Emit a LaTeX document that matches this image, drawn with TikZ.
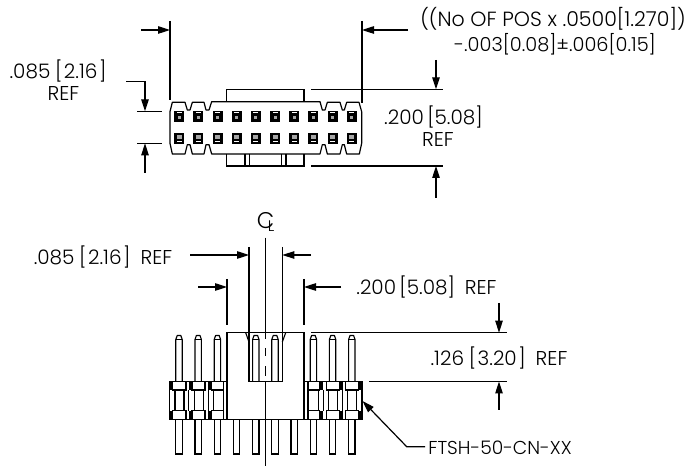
\documentclass[tikz,border=0pt]{standalone}
\usepackage{fontspec}
\setmainfont{Poppins Light}[Scale=1]
\usetikzlibrary{arrows.meta}
\newcommand{\brk}[1]{\kern1pt[\kern1.2pt#1\kern1.2pt]}
\tikzset{
  dimarrow/.style={line width=.9pt,-{Triangle[length=9pt,width=5.6pt]}},
  ln/.style={line width=.9pt},
  pinln/.style={line width=.85pt},
  txt/.style={inner sep=0pt,font=\fontsize{15pt}{17pt}\selectfont},
}
\begin{document}
\begin{tikzpicture}[x=.75pt,y=-.75pt]
\useasboundingbox (0,0) rectangle (689,466);
\fill[white] (0,0) rectangle (689,466);
% ---------- top view
\begin{scope}[shift={(130,80)},x=.25pt,y=-.25pt]
\draw[ln,line join=round] (120,95)--(127,67)--(165,67)--(172,90)--(180,90)--(187,67)--(222,67)--(228,90)--(237,90)--(245,65)--(570,65)--(577,90)--(585,90)--(592,67)--(630,67)--(637,90)--(643,90)--(650,67)--(687,67)--(695,95)--(695,190)--(688,222)--(650,222)--(643,194)--(637,194)--(630,222)--(592,222)--(585,194)--(577,194)--(570,222)--(245,222)--(237,194)--(228,194)--(222,222)--(187,222)--(180,194)--(172,194)--(165,222)--(127,222)--(120,190)--cycle;
\end{scope}
\draw[ln] (226.7,101.7)--(226.7,89.3)--(304,89.3)--(304,101.7);
\draw[ln] (226.7,154)--(226.7,166)--(304,166)--(304,154);
\draw[ln] (245,154)--(245,166) (249.3,154)--(249.3,166) (281.7,154)--(281.7,166) (286,154)--(286,166);
\foreach \i in {0,...,9}{
  \pgfmathsetmacro{\cx}{179.3+19.17*\i}
  \fill[black] (\cx-5,111) rectangle (\cx+5,122.5);
  \fill[white] (\cx-2.5,112) rectangle (\cx+2.5,113.5);
  \fill[gray!70] (\cx-1.5,116) rectangle (\cx+1.5,119);
  \fill[black] (\cx-5,132.7) rectangle (\cx+5,144.3);
  \fill[gray!70] (\cx-2.5,135.5) rectangle (\cx+2.5,139);
  \fill[white] (\cx-2.5,141) rectangle (\cx+2.5,142.5);
}
% top-view extension lines and arrows
\coordinate (tl) at (170,21); \coordinate (tlb) at (170,100);
\coordinate (tr) at (362,21); \coordinate (trb) at (362,103);
\draw[ln] (tl)--(tlb);
\draw[ln] (tr)--(trb);
\draw[dimarrow] (141,30)--(170,30);
\draw[dimarrow] (408,30)--(362,30);
\draw[ln] (311,89.3)--(443,89.3);
\draw[ln] (311,166)--(443,166);
\draw[dimarrow] (436,60)--(436,89.3);
\draw[dimarrow] (436,198)--(436,166);
\draw[ln] (137,111.3)--(162,111.3);
\draw[ln] (137,143.3)--(162,143.3);
\draw[dimarrow] (126,81.7)--(145,81.7)--(145,111.3);
\draw[dimarrow] (145,173)--(145,143.3);
\node[txt,font=\fontsize{15.4pt}{17pt}\selectfont] (t1) at (553,19) {((No OF POS x .0500[1.270])};
\node[txt,font=\fontsize{14.5pt}{17pt}\selectfont] (t2) at (555,44) {-.003[0.08]±.006[0.15]};
\node[txt] (t3) at (433.5,117) {.200\,[5.08]};
\node[txt] (t4) at (438,140) {REF};
\node[txt] (t5) at (58,71) {.085\,\brk{2.16}};
\node[txt] (t6) at (63.5,94) {REF};
% ---------- front view
\foreach \i in {0,1,2,4,5,7,8,9}{
  \pgfmathsetmacro{\cx}{179+19.2*\i}
  \draw[pinln,line join=round] (\cx-3.2,381.5)--(\cx-3.2,339.5)--(\cx-1.8,335.5)--(\cx+1.8,335.5)--(\cx+3.2,339.5)--(\cx+3.2,381.5);
  \draw[pinln] (\cx-3.2,339.5)--(\cx+3.2,339.5);
}
\foreach \i in {0,...,9}{
  \pgfmathsetmacro{\cx}{179+19.2*\i}
  \draw[pinln] (\cx-3.2,419.3)--(\cx-3.2,454)--(\cx+3.2,454)--(\cx+3.2,419.3);
}
\draw[ln] (227,381.5)--(227,332.7)--(304,332.7)--(304,381.5);
\draw[ln] (169.5,381.5)--(227,381.5)--(227,419.3)--(169.5,419.3)--cycle;
\draw[ln] (304,381.5)--(361.9,381.5)--(361.9,419.3)--(304,419.3)--cycle;
\draw[ln] (227,419.3)--(304,419.3);
\draw[ln] (249,332.7)--(249,381.5)--(282.3,381.5)--(282.3,332.7);
\draw[pinln] (249,342)--(245.7,332.7) (282.3,342)--(285.7,332.7);
% side blocks, left and mirrored right
\foreach \mx/\sgn in {0/1,531.4/-1}{
\begin{scope}[shift={(\mx,0)},xscale=\sgn]
  \foreach \a/\b in {172.7/186,192/205,211.7/223.5}{
    \draw[ln] (\a,381.5) rectangle (\b,390);
    \draw[ln] (\a,410.7) rectangle (\b,419.3);
  }
  \foreach \a/\b in {169.3/172.7,188.7/192,208.3/211.7}{
    \fill[black] (\a,381.5) rectangle (\b,390);
    \fill[black] (\a,410.7) rectangle (\b,419.3);
  }
  \draw[ln] (175,390)--(175,410.7) (184,390)--(184,410.7);
  \draw[ln] (188.7,390)--(188.7,410.7) (194.3,390)--(194.3,410.7) (203.3,390)--(203.3,410.7);
  \draw[ln] (208.3,390)--(208.3,410.7) (213.3,390)--(213.3,410.7);
  \draw[ln] (223.5,390)--(223.5,410.7);
\end{scope}
}
% centre line
\draw[ln] (265.7,237.7)--(265.7,339);
\draw[ln] (265.7,348)--(265.7,356.5);
\draw[ln] (265.7,366.5)--(265.7,376);
\draw[ln] (265.7,381.5)--(265.7,465.7);
% front-view extension lines and arrows
\draw[ln] (249,247)--(249,332.7);
\draw[ln] (282.3,247)--(282.3,332.7);
\draw[ln] (227,279)--(227,325);
\draw[ln] (304,279)--(304,325);
\draw[dimarrow] (190,255)--(249,255);
\draw[dimarrow] (311,255)--(282.3,255);
\draw[dimarrow] (198,287)--(227,287);
\draw[dimarrow] (341,287)--(304,287);
\draw[ln] (311,332.7)--(507,332.7);
\draw[ln] (369,381.5)--(507,381.5);
\draw[dimarrow] (499,303)--(499,332.7);
\draw[dimarrow] (499,410)--(499,381.5);
\draw[dimarrow] (425,446.7)--(406.7,446.7)--(362.5,401);
\node[txt] (t7) at (103,257) {.085\,\brk{2.16}\enspace REF};
\node[txt] (t8) at (426.5,287) {.200\,[5.08]\enspace REF};
\node[txt] (t9) at (499,358) {.126\,\brk{3.20}\enspace REF};
\node[txt,font=\fontsize{14pt}{17pt}\selectfont] (t10) at (500,447.5) {FTSH-50-CN-XX};
\node[txt,font=\fontsize{17pt}{19pt}\selectfont] (c1) at (265.5,220.5) {C};
\node[txt,font=\fontsize{11.5pt}{13pt}\selectfont] (c2) at (271,226.5) {L};
\end{tikzpicture}
\end{document}
